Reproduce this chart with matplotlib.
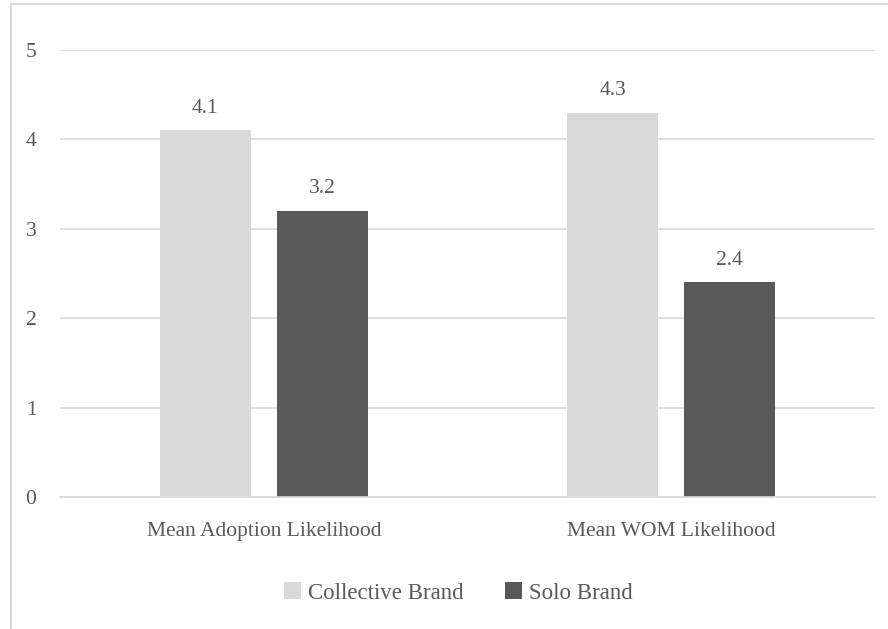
import matplotlib.pyplot as plt
from matplotlib.patches import Rectangle
import numpy as np

categories = ['Mean Adoption Likelihood', 'Mean WOM Likelihood']
series_names = ['Collective Brand', 'Solo Brand']
collective = [4.1, 4.3]
solo = [3.2, 2.4]
yticks = [0, 1, 2, 3, 4, 5]

plt.rcParams['font.family'] = ['Liberation Serif', 'DejaVu Serif']
text_col = '#595959'
grid_col = '#d9d9d9'
fs = 15.5

W, H = 888, 629
fig = plt.figure(figsize=(W / 100, H / 100), dpi=100)
ax = fig.add_axes([60 / W, 1 - 497 / H, 815 / W, 447 / H])

# chart border (right and bottom run off the crop)
fig.patches.append(Rectangle((11 / W, -0.05), 1.2, 1 - 3.5 / H + 0.05,
                             transform=fig.transFigure, fill=False,
                             edgecolor=grid_col, linewidth=1.5))

x = np.arange(len(categories))
bw = 0.224
off = 0.1435
b1 = ax.bar(x - off, collective, bw, color='#d9d9d9', label=series_names[0], zorder=2)
b2 = ax.bar(x + off, solo, bw, color='#595959', label=series_names[1], zorder=2)

for bars in (b1, b2):
    ax.bar_label(bars, labels=[f'{v:.1f}' for v in bars.datavalues],
                 padding=9, fontsize=fs, color=text_col)

ax.set_xlim(-0.5, 1.5)
ax.set_ylim(0, 5)
ax.set_yticks(yticks)
ax.set_yticklabels([str(t) for t in yticks])
ax.set_xticks(x)
ax.set_xticklabels(categories)
ax.yaxis.grid(True, color=grid_col, linewidth=1.2, zorder=0)
ax.set_axisbelow(True)
for s in ['top', 'right', 'left']:
    ax.spines[s].set_visible(False)
ax.spines['bottom'].set_color(grid_col)
ax.spines['bottom'].set_linewidth(1.2)
ax.tick_params(axis='both', length=0, labelsize=fs, labelcolor=text_col)
ax.tick_params(axis='y', pad=17)
ax.tick_params(axis='x', pad=18)

fig.legend(handles=[b1, b2], labels=series_names, loc='center',
           bbox_to_anchor=(458 / W, 1 - 593 / H), ncol=2, frameon=False,
           fontsize=fs + 1, labelcolor=text_col, handlelength=0.75,
           handleheight=0.75, handletextpad=0.3, columnspacing=1.8)

fig.savefig('out.png', dpi=100)
